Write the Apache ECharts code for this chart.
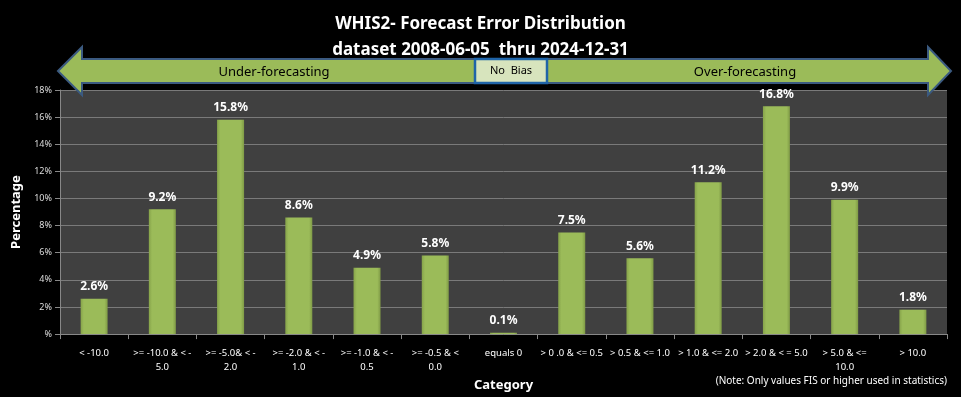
<!DOCTYPE html>
<html><head><meta charset="utf-8">
<script src="https://cdn.jsdelivr.net/npm/echarts@6/dist/echarts.min.js"></script>
<style>html,body{margin:0;padding:0;background:#000;}#c{width:961px;height:397px;}</style>
</head><body><div id="c"></div>
<script>
const categories = ['< -10.0', '>= -10.0 & < -\n5.0', '>= -5.0& < -\n2.0', '>= -2.0 & < -\n1.0', '>= -1.0 & < -\n0.5', '>= -0.5 & <\n0.0', 'equals 0', '> 0 .0 & <= 0.5', '> 0.5 & <= 1.0', '> 1.0 & <= 2.0', '> 2.0 & < = 5.0', '> 5.0 & <=\n10.0', '> 10.0'];
const percentages = [2.6, 9.2, 15.8, 8.6, 4.9, 5.8, 0.1, 7.5, 5.6, 11.2, 16.8, 9.9, 1.8];
const yTicks = [0, 2, 4, 6, 8, 10, 12, 14, 16, 18];

const FONT = '"Noto Sans", sans-serif';
const chart = echarts.init(document.getElementById('c'));
const green = '#9BBB59', border = '#3B5A80';
function arrowPts(){
  return [[58,71],[82,47],[82,59],[928,59],[928,47],[951,71],[928,95],[928,83],[82,83],[82,95]];
}
chart.setOption({
  backgroundColor: '#000',
  title: [{
    text: 'WHIS2- Forecast Error Distribution\ndataset 2008-06-05  thru 2024-12-31',
    left: 'center', top: 6,
    textStyle: {color: '#fff', fontSize: 17, fontWeight: 'bold', fontFamily: FONT, lineHeight: 26}
  }],
  graphic: [
    {type: 'polygon', shape: {points: arrowPts()}, style: {fill: green, stroke: border, lineWidth: 2}, z: 10},
    {type: 'rect', shape: {x: 475, y: 59, width: 72, height: 24}, style: {fill: '#D7E4BD', stroke: '#1F64A8', lineWidth: 2.5}, z: 11},
    {type: 'text', x: 511, y: 71, style: {text: 'No  Bias', fill: '#000', font: '11px ' + FONT, align: 'center', verticalAlign: 'middle'}, z: 12},
    {type: 'text', x: 274, y: 72, style: {text: 'Under-forecasting', fill: '#000', font: '13px ' + FONT, align: 'center', verticalAlign: 'middle'}, z: 12},
    {type: 'text', x: 745, y: 72, style: {text: 'Over-forecasting', fill: '#000', font: '13px ' + FONT, align: 'center', verticalAlign: 'middle'}, z: 12},
    {type: 'text', right: 14, top: 376, style: {text: '(Note: Only values FIS or higher used in statistics)', fill: '#fff', font: '10px ' + FONT}, z: 12}
  ],
  grid: {left: 60, right: 14, top: 90, bottom: 56, show: true, backgroundColor: '#404040', borderWidth: 0},
  xAxis: {
    type: 'category', data: categories,
    name: 'Category', nameLocation: 'middle', nameGap: 38,
    nameTextStyle: {color: '#fff', fontSize: 13, fontWeight: 'bold', fontFamily: FONT},
    axisLine: {lineStyle: {color: '#888'}},
    axisTick: {show: true, length: 5, lineStyle: {color: '#888'}},
    axisLabel: {color: '#fff', fontSize: 9.5, fontFamily: FONT, interval: 0, margin: 12, lineHeight: 14}
  },
  yAxis: {
    type: 'value', min: 0, max: 18, interval: 2,
    name: 'Percentage', nameLocation: 'middle', nameGap: 37,
    nameTextStyle: {color: '#fff', fontSize: 13, fontWeight: 'bold', fontFamily: FONT},
    axisLine: {show: true, lineStyle: {color: '#888'}},
    axisTick: {show: true, length: 5, lineStyle: {color: '#888'}},
    splitLine: {lineStyle: {color: '#7a7a7a', width: 1}},
    axisLabel: {color: '#ddd', fontSize: 9, fontFamily: FONT, margin: 8,
      formatter: v => yTicks.includes(v) ? (v === 0 ? '%' : v + '%') : ''}
  },
  series: [{
    type: 'bar', data: percentages, barWidth: 27,
    itemStyle: {
      color: {type: 'linear', x: 0, y: 0, x2: 1, y2: 0, colorStops: [
        {offset: 0, color: '#86a34a'}, {offset: 0.12, color: '#9BBB59'}, {offset: 0.88, color: '#9BBB59'}, {offset: 1, color: '#7f9a46'}]}
    },
    label: {show: true, position: 'top', distance: 6, color: '#fff', fontSize: 12, fontWeight: 'bold', fontFamily: FONT,
      formatter: p => p.value.toFixed(1) + '%'}
  }]
});
</script></body></html>
